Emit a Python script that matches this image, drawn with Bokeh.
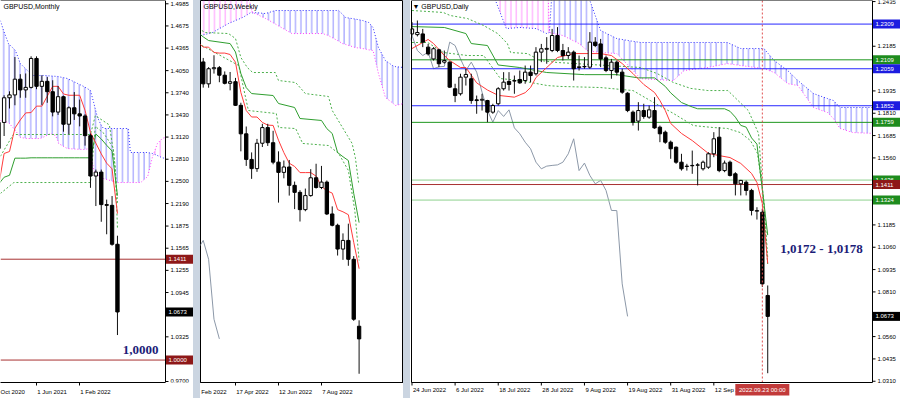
import numpy as np
from bokeh.plotting import figure
from bokeh.models import Range1d, FixedTicker, Spacer
from bokeh.layouts import row
from bokeh.embed import file_html
from bokeh.resources import INLINE
from bokeh.core.properties import value

# ======================= DATA =======================
# ---- Monthly GBPUSD (bar index: Jan 2020 = 0) ----
mn_x = list(range(10, 33))  # Nov 2020 .. Sep 2022
mn_open = [1.2960, 1.3325, 1.3670, 1.3710, 1.3930, 1.3780, 1.3815, 1.4220, 1.3830, 1.3900, 1.3755, 1.3470,
           1.3685, 1.3300, 1.3530, 1.3445, 1.3415, 1.3140, 1.2575, 1.2630, 1.2175, 1.2165, 1.1620]
mn_high = [1.3400, 1.3705, 1.3760, 1.4240, 1.4000, 1.4010, 1.4250, 1.4250, 1.3985, 1.3960, 1.3915, 1.3835,
           1.3700, 1.3550, 1.3750, 1.3645, 1.3440, 1.3170, 1.2665, 1.2665, 1.2245, 1.2295, 1.1740]
mn_low = [1.2855, 1.3135, 1.3520, 1.3565, 1.3670, 1.3670, 1.3800, 1.3790, 1.3570, 1.3600, 1.3410, 1.3430,
          1.3195, 1.3160, 1.3360, 1.3270, 1.3000, 1.2410, 1.2155, 1.1935, 1.1760, 1.1600, 1.0350]
mn_close = [1.3325, 1.3670, 1.3710, 1.3930, 1.3780, 1.3815, 1.4220, 1.3830, 1.3900, 1.3755, 1.3470, 1.3685,
            1.3300, 1.3530, 1.3445, 1.3415, 1.3140, 1.2575, 1.2630, 1.2175, 1.2165, 1.1620, 1.0673]
mn_tenkan = [1.2445, 1.2890, 1.2918, 1.3245, 1.3360, 1.3458, 1.3463, 1.3553, 1.3553, 1.3693, 1.3830, 1.3830,
             1.3723, 1.3705, 1.3705, 1.3705, 1.3493, 1.3185, 1.3035, 1.2885, 1.2755, 1.2675, 1.2050]
mn_kijun = [1.2463, 1.2558, 1.2585, 1.2825, 1.2825, 1.2825, 1.2830, 1.2830, 1.2830, 1.2830, 1.2830, 1.2830,
            1.2830, 1.2830, 1.2830, 1.2830, 1.2830, 1.2830, 1.3163, 1.3093, 1.3005, 1.2925, 1.2300]
mn_dash1_x = [10.3, 12.7, 27.0, 27.9, 30.5, 31.3, 31.6, 32.0]
mn_dash1 = [1.2850, 1.3156, 1.3156, 1.3420, 1.3290, 1.2890, 1.2690, 1.1850]
mn_dash2_x = [10.3, 12.8, 27.0, 27.9, 29.5, 31.2, 31.7, 32.0]
mn_dash2 = [1.2330, 1.2484, 1.2484, 1.3270, 1.3170, 1.2970, 1.2550, 1.2200]
mn_kumo_x = [10.3, 10.9, 11.8, 13.1, 14.0, 15.3, 16.4, 17.7, 18.3, 19.6, 20.5, 20.9, 21.1, 22.7, 24.6, 25.7,
             27.0, 27.6, 28.3, 28.9, 29.4, 32.0, 34.0, 34.4, 36.3, 37.6, 38.5, 38.7, 39.4, 40.3, 41.0]
mn_span_a = [1.4750, 1.4611, 1.4429, 1.4331, 1.4149, 1.4052, 1.3982, 1.3982, 1.3982, 1.3975, 1.3970, 1.3968,
             1.3965, 1.3940, 1.3870, 1.3830, 1.3772, 1.3600, 1.3394, 1.3300, 1.3240, 1.3240, 1.3240, 1.2904,
             1.2904, 1.2904, 1.2890, 1.2885, 1.2862, 1.2830, 1.2820]
mn_span_b = [1.3352, 1.3340, 1.3324, 1.3212, 1.3114, 1.3100, 1.3100, 1.3100, 1.3120, 1.3170, 1.3142, 1.3080,
             1.3030, 1.2960, 1.2950, 1.2946, 1.2960, 1.2652, 1.2600, 1.2554, 1.2540, 1.2484, 1.2484, 1.2484,
             1.2484, 1.2568, 1.2848, 1.2885, 1.3030, 1.3100, 1.3120]
mn_levels = [1.1411, 1.0000]
mn_last = 1.0673
mn_yticks = [1.4985, 1.4675, 1.4365, 1.4050, 1.3740, 1.3430, 1.3120, 1.2810, 1.2500, 1.2190, 1.1875,
             1.1565, 1.1255, 1.0945, 1.0325, 0.9700]
mn_xlabels = ["Oct 2020", "1 Jun 2021", "1 Feb 2022"]

# ---- Weekly GBPUSD (bar index: week of 17 Apr 2022 = 0) ----
wk_x = list(range(-6, 24))
wk_open = [1.3238, 1.3035, 1.3175, 1.3185, 1.3115, 1.3040, 1.3055, 1.2836, 1.2572, 1.2335, 1.2250, 1.2485,
           1.2630, 1.2490, 1.2310, 1.2215, 1.2265, 1.2095, 1.2030, 1.1870, 1.2000, 1.2165, 1.2075, 1.2125,
           1.1830, 1.1725, 1.1505, 1.1585, 1.1410, 1.0790]
wk_high = [1.3275, 1.3190, 1.3300, 1.3200, 1.3150, 1.3145, 1.3090, 1.2860, 1.2640, 1.2400, 1.2525, 1.2665,
           1.2665, 1.2600, 1.2410, 1.2325, 1.2330, 1.2130, 1.2050, 1.2065, 1.2245, 1.2295, 1.2275, 1.2140,
           1.1900, 1.1740, 1.1650, 1.1740, 1.1440, 1.0845]
wk_low = [1.3000, 1.2999, 1.3130, 1.3050, 1.3030, 1.2975, 1.2830, 1.2410, 1.2275, 1.2155, 1.2220, 1.2450,
          1.2460, 1.2290, 1.1935, 1.2160, 1.2000, 1.1875, 1.1760, 1.1855, 1.1990, 1.2065, 1.2060, 1.1820,
          1.1715, 1.1445, 1.1405, 1.1350, 1.0840, 1.0350]
wk_close = [1.3035, 1.3175, 1.3185, 1.3115, 1.3040, 1.3055, 1.2836, 1.2572, 1.2335, 1.2250, 1.2485, 1.2630,
            1.2490, 1.2310, 1.2215, 1.2265, 1.2095, 1.2030, 1.1870, 1.2000, 1.2165, 1.2075, 1.2125, 1.1830,
            1.1725, 1.1505, 1.1585, 1.1410, 1.0855, 1.0673]
wk_tenkan_x = list(range(-7, 24))
wk_tenkan = [1.3420, 1.3375, 1.3375, 1.3325, 1.3320, 1.3320, 1.3307, 1.3235, 1.2955, 1.2788, 1.2728, 1.2728,
             1.2678, 1.2653, 1.2650, 1.2513, 1.2398, 1.2300, 1.2270, 1.2213, 1.2213, 1.2213, 1.2180, 1.2085,
             1.2045, 1.2023, 1.1870, 1.1850, 1.1823, 1.1568, 1.1323]
wk_kijun_x = [-7, -6, -5, -1, 0, 1, 2, 3, 7, 8, 11, 12, 16, 17, 18, 19, 20, 21, 22, 23]
wk_kijun = [1.3510, 1.3470, 1.3436, 1.3408, 1.3330, 1.3131, 1.3000, 1.2945, 1.2927, 1.2853, 1.2816, 1.2714,
            1.2696, 1.2620, 1.2575, 1.2399, 1.2360, 1.2325, 1.2020, 1.1750]
wk_dash1_x = [-6.9, -5.6, -1.3, 0.0, 1.0, 2.2, 3.2, 7.4, 8.0, 11.2, 13.0, 17.3, 18.0, 20.8, 21.7, 22.3, 22.9]
wk_dash1 = [1.3547, 1.3510, 1.3501, 1.3455, 1.3279, 1.3186, 1.3140, 1.3140, 1.3066, 1.3047, 1.2945, 1.2918,
            1.2788, 1.2557, 1.2483, 1.2353, 1.2121]
wk_dash2_x = [-6.9, 0.6, 2.4, 7.6, 8.0, 11.2, 12.5, 17.3, 19.2, 21.0, 22.2, 23.0]
wk_dash2 = [1.3408, 1.3205, 1.2788, 1.2760, 1.2631, 1.2621, 1.2483, 1.2464, 1.2390, 1.2233, 1.1862, 1.1399]
wk_kumo_x = [-7.0, -6.5, -4.3, -1.3, 1.3, 2.2, 2.8, 3.2, 3.7, 5.6, 7.4, 7.9, 10.5, 13.0, 16.2, 17.3, 19.2,
             19.9, 20.5, 22.3, 23.7, 24.8, 25.6, 26.6, 27.9, 29.2, 29.7, 31.3]
wk_span_a = [1.3470, 1.3482, 1.3510, 1.3594, 1.3649, 1.3675, 1.3695, 1.3692, 1.3695, 1.3686, 1.3714, 1.3714,
             1.3714, 1.3714, 1.3714, 1.3714, 1.3714, 1.3680, 1.3649, 1.3635, 1.3621, 1.3603, 1.3556, 1.3371,
             1.3251, 1.3205, 1.3195, 1.3186]
wk_span_b = [1.4000, 1.4000, 1.4000, 1.4000, 1.4000, 1.3900, 1.3760, 1.3692, 1.3686, 1.3640, 1.3590, 1.3575,
             1.3501, 1.3501, 1.3501, 1.3482, 1.3430, 1.3408, 1.3400, 1.3371, 1.3362, 1.3350, 1.3344, 1.3131,
             1.2908, 1.2860, 1.2834, 1.2853]
wk_xlabels = ["Feb 2022", "17 Apr 2022", "12 Jun 2022", "7 Aug 2022"]

# ---- Daily GBPUSD (bar index: 24 Jun 2022 = 0, 26 Sep 2022 = 66) ----
d_x = list(range(0, 67))
d_open = [1.2254, 1.2250, 1.2254, 1.2180, 1.2114, 1.2165, 1.2096, 1.2096, 1.1947, 1.1919,
          1.2012, 1.2003, 1.1885, 1.1883, 1.1881, 1.1816, 1.1863, 1.1947, 1.1988, 1.1990,
          1.1999, 1.1993, 1.2040, 1.2031, 1.2152, 1.2168, 1.2161, 1.2245, 1.2161, 1.2133,
          1.2152, 1.2066, 1.2070, 1.2068, 1.2208, 1.2198, 1.2120, 1.2049, 1.2096, 1.2040,
          1.1922, 1.1816, 1.1766, 1.1825, 1.1788, 1.1825, 1.1732, 1.1704, 1.1648, 1.1620,
          1.1536, 1.1512, 1.1516, 1.1519, 1.1499, 1.1508, 1.1583, 1.1676, 1.1489, 1.1536,
          1.1471, 1.1415, 1.1424, 1.1378, 1.1262, 1.1256, 1.0790]
d_high = [1.2320, 1.2329, 1.2282, 1.2198, 1.2180, 1.2171, 1.2161, 1.2100, 1.1975, 1.2031,
          1.2059, 1.2031, 1.1909, 1.1919, 1.1885, 1.1863, 1.1956, 1.2040, 1.2040, 1.2021,
          1.2049, 1.2077, 1.2077, 1.2180, 1.2198, 1.2236, 1.2282, 1.2292, 1.2198, 1.2180,
          1.2161, 1.2133, 1.2124, 1.2264, 1.2236, 1.2226, 1.2133, 1.2114, 1.2105, 1.2059,
          1.1928, 1.1825, 1.1872, 1.1863, 1.1853, 1.1900, 1.1741, 1.1713, 1.1657, 1.1624,
          1.1583, 1.1527, 1.1601, 1.1531, 1.1545, 1.1592, 1.1704, 1.1732, 1.1545, 1.1545,
          1.1480, 1.1437, 1.1434, 1.1387, 1.1284, 1.1274, 1.0846]
d_low = [1.2245, 1.2240, 1.2180, 1.2133, 1.2105, 1.2068, 1.2087, 1.1952, 1.1872, 1.1909,
         1.1965, 1.1863, 1.1807, 1.1825, 1.1760, 1.1807, 1.1853, 1.1937, 1.1937, 1.1919,
         1.1975, 1.1975, 1.1984, 1.2021, 1.2096, 1.2087, 1.2152, 1.2152, 1.2105, 1.2114,
         1.1993, 1.2049, 1.2059, 1.2059, 1.2180, 1.2068, 1.2040, 1.2003, 1.2021, 1.1919,
         1.1816, 1.1741, 1.1713, 1.1779, 1.1779, 1.1723, 1.1648, 1.1639, 1.1555, 1.1527,
         1.1489, 1.1489, 1.1471, 1.1406, 1.1489, 1.1499, 1.1564, 1.1480, 1.1480, 1.1456,
         1.1350, 1.1350, 1.1350, 1.1238, 1.1215, 1.0838, 1.0355]
d_close = [1.2282, 1.2262, 1.2208, 1.2142, 1.2171, 1.2087, 1.2105, 1.1956, 1.1909, 1.2012,
           1.2027, 1.1881, 1.1881, 1.1888, 1.1816, 1.1853, 1.1947, 1.1984, 1.1971, 1.1993,
           1.1980, 1.2040, 1.2021, 1.2152, 1.2171, 1.2173, 1.2245, 1.2161, 1.2133, 1.2152,
           1.2059, 1.2070, 1.2072, 1.2208, 1.2189, 1.2114, 1.2049, 1.2096, 1.2040, 1.1928,
           1.1825, 1.1760, 1.1825, 1.1792, 1.1829, 1.1728, 1.1695, 1.1648, 1.1611, 1.1536,
           1.1499, 1.1514, 1.1518, 1.1521, 1.1536, 1.1583, 1.1667, 1.1489, 1.1531, 1.1462,
           1.1415, 1.1434, 1.1378, 1.1266, 1.1265, 1.0855, 1.0673]
d_tenkan_x = [0, 3, 4, 6, 7, 9, 10, 12, 14, 16, 19, 21, 22, 23, 25, 27, 30, 33, 35, 37, 39, 41, 43, 45,
              46, 47, 48, 50, 52, 55, 57, 59, 61, 63, 64, 65, 66]
d_tenkan = [1.2172, 1.2223, 1.2200, 1.2133, 1.2105, 1.2066, 1.2066, 1.1980, 1.1940, 1.1910, 1.1900, 1.1925,
            1.1954, 1.2010, 1.2066, 1.2122, 1.2144, 1.2144, 1.2144, 1.2133, 1.2088, 1.2032, 1.1971, 1.1926,
            1.1881, 1.1825, 1.1753, 1.1697, 1.1657, 1.1585, 1.1573, 1.1562, 1.1529, 1.1473, 1.1422, 1.1305,
            1.0969]
d_kijun_x = [0, 6, 10, 11, 14, 16, 20, 25, 32, 38, 42, 45, 47, 48, 50, 52, 53, 58, 59, 60, 61, 62, 63, 64,
             65, 66]
d_kijun = [1.2295, 1.2290, 1.2256, 1.2200, 1.2189, 1.2080, 1.2066, 1.2038, 1.2026, 1.2026, 1.2008, 1.2008,
           1.1960, 1.1924, 1.1870, 1.1845, 1.1835, 1.1835, 1.1821, 1.1788, 1.1742, 1.1732, 1.1672, 1.1637,
           1.1383, 1.1128]
d_dash1_x = [0, 5.8, 7.1, 10.3, 13.3, 15.9, 17.7, 18.3, 21.4, 23.8, 27, 42.4, 45.5, 48.5, 51.7, 54.9, 58.6,
             60.5, 62.4, 64.3, 65.2, 66]
d_dash1 = [1.2385, 1.2374, 1.2357, 1.2340, 1.2301, 1.2256, 1.2200, 1.2150, 1.2144, 1.2105, 1.2094, 1.2066,
           1.2032, 1.1982, 1.1949, 1.1937, 1.1937, 1.1881, 1.1825, 1.1697, 1.1322, 1.0958]
d_dash2_x = [0, 2.9, 5.8, 10.3, 13.3, 16.4, 20.1, 25.1, 27.5, 34.9, 41, 44.2, 48.5, 52.2, 55.9, 58.5, 60.9,
             62.8, 64.1, 65.3, 66]
d_dash2 = [1.2206, 1.2206, 1.2150, 1.2133, 1.2133, 1.2004, 1.1993, 1.1965, 1.1960, 1.1954, 1.1937, 1.1881,
           1.1809, 1.1741, 1.1730, 1.1725, 1.1702, 1.1657, 1.1585, 1.1322, 1.1000]
d_kumo_x = [14.0, 15.5, 17.5, 20.0, 23.0, 25.0, 25.5, 26.0, 28.0, 31.0, 32.5, 33.0, 35.0, 38.0, 40.5, 42.4,
            48.5, 50.5, 54.9, 58.5, 61.0, 65.3, 67.2, 69.7, 71.6, 74.5, 77.1, 78.2, 79.4, 81.8, 85.6]
d_span_a = [1.2500, 1.2441, 1.2284, 1.2290, 1.2284, 1.2256, 1.2262, 1.2500, 1.2500, 1.2500, 1.2470, 1.2441,
            1.2273, 1.2228, 1.2215, 1.2206, 1.2206, 1.2206, 1.2206, 1.2206, 1.2172, 1.2172, 1.2105, 1.2049,
            1.1993, 1.1920, 1.1892, 1.1881, 1.1842, 1.1842, 1.1842]
d_span_b = [1.2700, 1.2700, 1.2700, 1.2700, 1.2700, 1.2700, 1.2262, 1.2258, 1.2245, 1.2200, 1.2161, 1.2158,
            1.2150, 1.2144, 1.2066, 1.2004, 1.1993, 1.2049, 1.2066, 1.2088, 1.2077, 1.2060, 1.2038, 1.1976,
            1.1965, 1.1842, 1.1814, 1.1780, 1.1725, 1.1702, 1.1697]
d_levels = [1.2309, 1.2109, 1.2059, 1.1852, 1.1759, 1.1436, 1.1411, 1.1324]
d_level_kind = ["blue", "green", "blue", "blue", "green", "lgreen", "red", "lgreen"]
d_last = 1.0673
d_marker_bar = 65  # 2022.09.23
d_marker_text = "2022.09.23 00:00"
d_yticks = [1.2435, 1.2185, 1.1935, 1.1810, 1.1685, 1.1560, 1.1185, 1.1060, 1.0935, 1.0810, 1.0560,
            1.0435, 1.0310]
d_xticks = [0, 8, 16, 24, 32, 40, 48, 56]
d_xlabels = ["24 Jun 2022", "6 Jul 2022", "18 Jul 2022", "28 Jul 2022", "9 Aug 2022", "19 Aug 2022",
             "31 Aug 2022", "12 Sep 2022"]
CHIKOU_SHIFT = 26

# ======================= STYLE =======================
FONT = "Liberation Sans"
RED = "#FF3B3B"
GREEN = "#2F9E2F"
DGREEN = "#4DB04D"
KBLUE = "#3030FF"
KMAG = "#FF40FF"
CHIKOU = "#8C98A8"
LINE_COL = {"blue": "#2626FF", "green": "#1E961E", "lgreen": "#8ED18E", "red": "#A83232"}
TAG_COL = {"blue": "#1C1CE0", "green": "#1E8C1E", "lgreen": "#1E8C1E", "red": "#8E1818"}
NAVY = "#1C1C78"
H = 398
PLOT_H = 382      # pixel height of the price area
AXIS_W = 28       # pixel width of the price scale strip


def no_align(p):
    try:
        p.frame_align = False
    except Exception:
        pass


def txt(p, x, y, s, size="6px", color="#000000", align="left", font=FONT, style="normal"):
    p.text(x=[x], y=[y], text=[s], text_font=value(font), text_font_size=value(size),
           text_color=color, text_align=align, text_baseline="middle", text_font_style=style)


def candles(p, x, o, h, l, c, w=0.62):
    x, o, h, l, c = (np.asarray(v, dtype=float) for v in (x, o, h, l, c))
    p.segment(x0=x, y0=l, x1=x, y1=h, line_color="#111111", line_width=1)
    up = c >= o
    p.vbar(x=x[up], bottom=o[up], top=c[up], width=w, fill_color="white",
           line_color="#000000", line_width=1)
    p.vbar(x=x[~up], bottom=c[~up], top=o[~up], width=w, fill_color="#000000",
           line_color="#000000", line_width=1)


def kumo(p, xs, a, b):
    xs, a, b = (np.asarray(v, dtype=float) for v in (xs, a, b))
    for mask, col in ((a >= b, KBLUE), (b >= a, KMAG)):
        idx = np.flatnonzero(mask)
        if len(idx) == 0:
            continue
        runs = np.split(idx, np.flatnonzero(np.diff(idx) > 1) + 1)
        for r in runs:
            if len(r) < 2:
                continue
            p.varea(x=xs[r], y1=np.minimum(a[r], b[r]), y2=np.maximum(a[r], b[r]),
                    fill_color=None, fill_alpha=0, hatch_pattern="|", hatch_color=col,
                    hatch_scale=5.4, hatch_weight=1, hatch_alpha=0.55)
    p.line(xs, a, line_color=KBLUE, line_dash="1 2", line_width=1)
    p.line(xs, b, line_color=KMAG, line_dash="1 2", line_width=1)


def hlines(p, levels, colors, x0, x1):
    n = len(levels)
    p.segment(x0=[x0] * n, x1=[x1] * n, y0=levels, y1=levels, line_color=colors, line_width=1)


def price_scale(p, xa, xr_end, yr, ticks, ppx, ppy, tags, cover_bottom=None):
    """Price strip to the right of the plot area (x >= xa): white cover, axis line, ticks, labels, tags."""
    y0, y1 = yr
    p.quad(left=[xa], right=[xr_end], bottom=[y0 - 1], top=[y1 + 1], fill_color="white", line_color=None)
    if cover_bottom is not None:
        xl, yb = cover_bottom
        p.quad(left=[xl], right=[xa], bottom=[y0 - 1], top=[yb], fill_color="white", line_color=None)
    ybot = cover_bottom[1] if cover_bottom is not None else y0
    p.segment(x0=[xa], x1=[xa], y0=[ybot], y1=[y1], line_color="#000000", line_width=1)
    n = len(ticks)
    p.segment(x0=[xa] * n, x1=[xa + 3 / ppx] * n, y0=ticks, y1=ticks, line_color="#000000", line_width=1)
    p.text(x=[xa + 5 / ppx] * n, y=ticks, text=[f"{t:.4f}" for t in ticks], text_font=value(FONT),
           text_font_size=value("6px"), text_color="#000000", text_align="left", text_baseline="middle")
    for lv, bg in tags:
        p.quad(left=[xa + 0.5 / ppx], right=[xr_end], bottom=[lv - 4.5 / ppy], top=[lv + 4.5 / ppy],
               fill_color=bg, line_color=None)
        txt(p, xa + 3 / ppx, lv, f"{lv:.4f}", color="white")


def bokeh_xaxis(p, centers, labels, minor, bounds=None):
    ax = p.xaxis[0]
    ax.ticker = FixedTicker(ticks=centers, minor_ticks=minor)
    ax.major_label_overrides = {c: l for c, l in zip(centers, labels)}
    ax.major_tick_in = 0
    ax.major_tick_out = 0
    ax.major_tick_line_color = None
    ax.minor_tick_in = 0
    ax.minor_tick_out = 3
    ax.minor_tick_line_color = "#000000"
    ax.axis_line_color = "#000000"
    ax.major_label_text_font = FONT
    ax.major_label_text_font_size = "6px"
    ax.major_label_text_color = "#000000"
    ax.major_label_standoff = 3
    if bounds is not None:
        ax.bounds = bounds


# ======================= MONTHLY =======================
MX0, MX1 = 10.33, 40.9          # plot area in bar units
MY0, MY1 = 0.9686, 1.5031
m_ppx = 165 / (MX1 - MX0)
m_ppy = PLOT_H / (MY1 - MY0)
m_xend = MX1 + AXIS_W / m_ppx
p1 = figure(width=193, height=H, x_range=Range1d(MX0, m_xend), y_range=Range1d(MY0, MY1),
            toolbar_location=None, output_backend="svg", y_axis_location=None,
            min_border_left=0, min_border_right=0, min_border_top=0, min_border_bottom=16)
no_align(p1)
p1.grid.visible = False
p1.outline_line_color = None
bokeh_xaxis(p1, [12.56, 19.87, 27.93], mn_xlabels, [17, 25], bounds=(MX0, MX1))
kumo(p1, mn_kumo_x, mn_span_a, mn_span_b)
p1.line(mn_dash1_x, mn_dash1, line_color=DGREEN, line_dash="2 2", line_width=1)
p1.line(mn_dash2_x, mn_dash2, line_color=DGREEN, line_dash="2 2", line_width=1)
p1.line(mn_x, mn_kijun, line_color=GREEN, line_width=1)
p1.line(mn_x, mn_tenkan, line_color=RED, line_width=1)
hlines(p1, mn_levels, [LINE_COL["red"]] * len(mn_levels), MX0, MX1)
candles(p1, mn_x, mn_open, mn_high, mn_low, mn_close)
price_scale(p1, MX1, m_xend, (MY0, MY1), mn_yticks, m_ppx, m_ppy,
            [(lv, TAG_COL["red"]) for lv in mn_levels] + [(mn_last, "#000000")])
p1.segment(x0=[MX0], x1=[MX1], y0=[MY1], y1=[MY1], line_color="#000000", line_width=1)
txt(p1, MX0 + 3 / m_ppx, MY1 - 6 / m_ppy, "GBPUSD,Monthly", size="7px")
txt(p1, MX0 + 140 / m_ppx, MY1 - 349 / m_ppy, "1,0000", size="13px", color=NAVY, align="center",
    font="Liberation Serif", style="bold")

# ======================= WEEKLY =======================
WX0, WX1 = -6.51, 31.26
WY0, WY1 = 1.0269, 1.3807
w_ppx = 203 / (WX1 - WX0)
w_ppy = PLOT_H / (WY1 - WY0)
p2 = figure(width=203, height=H, x_range=Range1d(WX0, WX1), y_range=Range1d(WY0, WY1),
            toolbar_location=None, output_backend="svg", y_axis_location=None,
            min_border_left=0, min_border_right=0, min_border_top=0, min_border_bottom=16)
no_align(p2)
p2.grid.visible = False
p2.outline_line_color = "#000000"
bokeh_xaxis(p2, [-4.0, 3.16, 11.16, 18.98], wk_xlabels, [0, 8, 16])
kumo(p2, wk_kumo_x, wk_span_a, wk_span_b)
p2.line(np.asarray(wk_x) - CHIKOU_SHIFT, wk_close, line_color=CHIKOU, line_width=1)
p2.line(wk_dash1_x, wk_dash1, line_color=DGREEN, line_dash="2 2", line_width=1)
p2.line(wk_dash2_x, wk_dash2, line_color=DGREEN, line_dash="2 2", line_width=1)
p2.line(wk_kijun_x, wk_kijun, line_color=GREEN, line_width=1)
p2.line(wk_tenkan_x, wk_tenkan, line_color=RED, line_width=1)
candles(p2, wk_x, wk_open, wk_high, wk_low, wk_close)
txt(p2, WX0 + 3 / w_ppx, WY1 - 6 / w_ppy, "GBPUSD,Weekly", size="7px")

# ======================= DAILY =======================
DX0, DX1 = -0.09, 85.44          # plot area in bar units
DY1 = 1.2441
d_ppx = 461 / (DX1 - DX0)
d_ppy = 1786.7
DY0 = DY1 - PLOT_H / d_ppy
d_xstart = DX0 - 1 / d_ppx
d_xend = DX1 + AXIS_W / d_ppx
d_ybot = DY1 - H / d_ppy
p3 = figure(width=490, height=H, x_range=Range1d(d_xstart, d_xend), y_range=Range1d(d_ybot, DY1),
            toolbar_location=None, output_backend="svg", x_axis_location=None, y_axis_location=None,
            min_border_left=0, min_border_right=0, min_border_top=0, min_border_bottom=0)
no_align(p3)
p3.grid.visible = False
p3.outline_line_color = None
kumo(p3, d_kumo_x, d_span_a, d_span_b)
p3.line(np.asarray(d_x) - CHIKOU_SHIFT, d_close, line_color=CHIKOU, line_width=1)
hlines(p3, d_levels, [LINE_COL[k] for k in d_level_kind], DX0, DX1)
p3.line(d_dash1_x, d_dash1, line_color=DGREEN, line_dash="2 2", line_width=1)
p3.line(d_dash2_x, d_dash2, line_color=DGREEN, line_dash="2 2", line_width=1)
p3.line(d_kijun_x, d_kijun, line_color=GREEN, line_width=1)
p3.line(d_tenkan_x, d_tenkan, line_color=RED, line_width=1)
candles(p3, d_x, d_open, d_high, d_low, d_close)
p3.segment(x0=[d_marker_bar], x1=[d_marker_bar], y0=[DY0], y1=[DY1], line_color="#E05050",
           line_dash="2 2", line_width=1)
price_scale(p3, DX1, d_xend, (d_ybot, DY1), d_yticks, d_ppx, d_ppy,
            [(lv, TAG_COL[k]) for lv, k in zip(d_levels, d_level_kind)] + [(d_last, "#000000")],
            cover_bottom=(d_xstart, DY0))
# frame lines (left, top, bottom time axis)
p3.segment(x0=[DX0, DX0, DX0], x1=[DX0, DX1, DX1], y0=[DY0, DY1, DY0], y1=[DY1, DY1, DY0],
           line_color="#000000", line_width=1)
# time axis: ticks + labels
nt = len(d_xticks)
p3.segment(x0=d_xticks, x1=d_xticks, y0=[DY0] * nt, y1=[DY0 - 3 / d_ppy] * nt, line_color="#000000")
p3.text(x=[t + 1 / d_ppx for t in d_xticks], y=[DY1 - 389 / d_ppy] * nt, text=d_xlabels,
        text_font=value(FONT), text_font_size=value("6px"), text_color="#000000",
        text_align="left", text_baseline="middle")
# date marker box on the time axis
p3.quad(left=[d_marker_bar - 27 / d_ppx], right=[d_marker_bar + 27 / d_ppx],
        top=[DY1 - 383.5 / d_ppy], bottom=[DY1 - 395 / d_ppy], fill_color="#C23A3A", line_color=None)
txt(p3, d_marker_bar, DY1 - 389.3 / d_ppy, d_marker_text, color="white", align="center")
txt(p3, DX0 + 1 / d_ppx, DY1 - 6 / d_ppy, "\u25BC GBPUSD,Daily", size="7px")
txt(p3, DX0 + 410 / d_ppx, DY1 - 248 / d_ppy, "1,0172 - 1,0178", size="13px", color=NAVY,
    align="center", font="Liberation Serif", style="bold")

sep1 = Spacer(width=7, height=H, styles={"background-color": "#CBD5E1"})
sep2 = Spacer(width=7, height=H, styles={"background-color": "#CBD5E1"})
layout = row(p1, sep1, p2, sep2, p3)

open("out.html", "w").write(file_html(layout, INLINE))
